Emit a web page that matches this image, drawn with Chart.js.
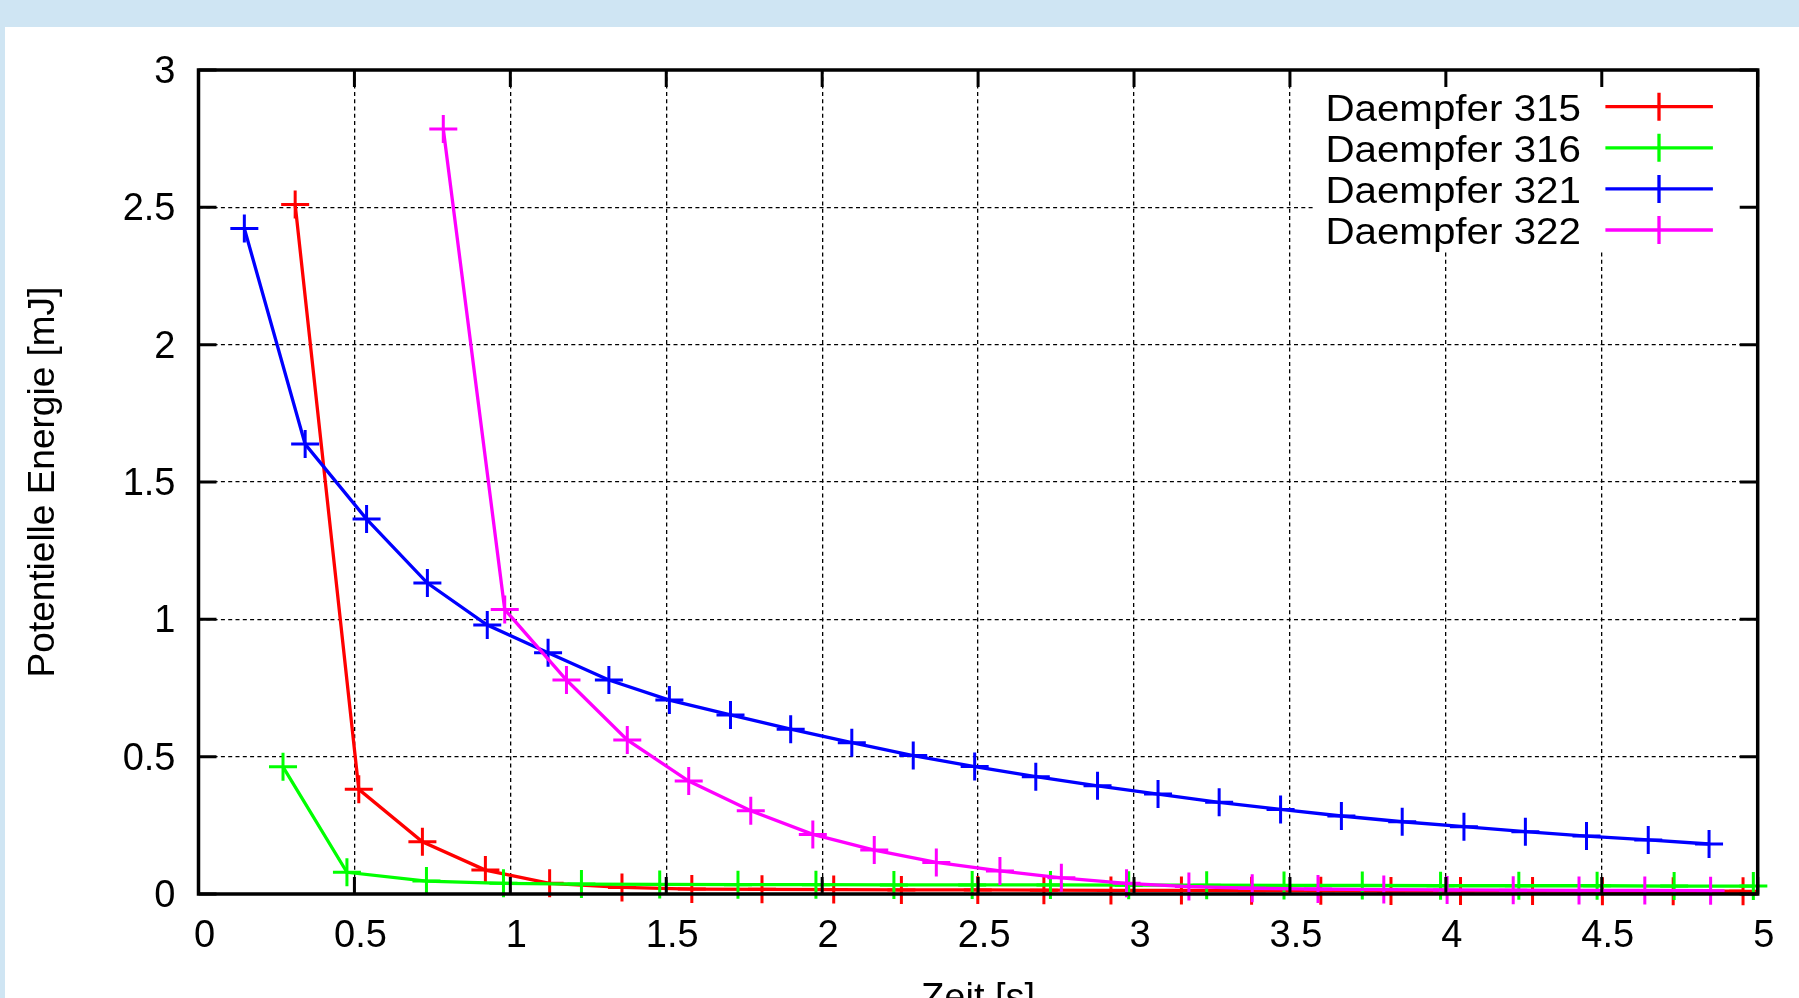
<!DOCTYPE html>
<html>
<head>
<meta charset="utf-8">
<title>Daempfer - Potentielle Energie</title>
<script src="https://cdn.jsdelivr.net/npm/chart.js@4.4.0/dist/chart.umd.min.js"></script>
<style>
    html, body {
        margin: 0;
        padding: 0;
        width: 1799px;
        height: 998px;
        overflow: hidden;
        background: #cfe5f3;
    }
    #panel {
        position: absolute;
        left: 5px;
        top: 27px;
        width: 1794px;
        height: 995px;
        background: #ffffff;
    }
    #energyChart {
        display: block;
    }
</style>
</head>
<body>
<div id="panel">
    <canvas id="energyChart" width="1794" height="995"></canvas>
</div>
<script>
// --- Daten ---
const seriesNames = ['Daempfer 315', 'Daempfer 316', 'Daempfer 321', 'Daempfer 322'];
const seriesColors = ['#ff0000', '#00ff00', '#0000ff', '#ff00ff'];

const t315 = [0.31, 0.514, 0.718, 0.92, 1.126, 1.358, 1.582, 1.807, 2.037, 2.254, 2.499, 2.711, 2.926, 3.152, 3.377, 3.599, 3.824, 4.047, 4.278, 4.502, 4.729, 4.953];
const e315 = [2.51, 0.381, 0.19, 0.087, 0.039, 0.024, 0.018, 0.017, 0.016, 0.015, 0.015, 0.014, 0.013, 0.013, 0.012, 0.012, 0.011, 0.011, 0.011, 0.01, 0.01, 0.01];

const t316 = [0.271, 0.476, 0.731, 0.978, 1.228, 1.479, 1.73, 1.98, 2.23, 2.481, 2.732, 2.983, 3.233, 3.481, 3.732, 3.983, 4.234, 4.485, 4.732, 4.986];
const e316 = [0.463, 0.079, 0.047, 0.039, 0.036, 0.035, 0.034, 0.034, 0.033, 0.033, 0.033, 0.032, 0.032, 0.031, 0.031, 0.03, 0.03, 0.03, 0.029, 0.029];

const t321 = [0.147, 0.342, 0.539, 0.734, 0.926, 1.121, 1.316, 1.51, 1.706, 1.899, 2.095, 2.292, 2.489, 2.685, 2.883, 3.077, 3.273, 3.47, 3.665, 3.86, 4.058, 4.255, 4.451, 4.649, 4.844];
const e321 = [2.423, 1.638, 1.365, 1.132, 0.979, 0.878, 0.779, 0.706, 0.652, 0.6, 0.551, 0.504, 0.464, 0.427, 0.394, 0.364, 0.334, 0.308, 0.284, 0.263, 0.245, 0.227, 0.211, 0.197, 0.182];

const t322 = [0.785, 0.982, 1.18, 1.375, 1.572, 1.771, 1.97, 2.167, 2.366, 2.57, 2.767, 2.976, 3.176, 3.379, 3.59, 3.801, 4.004, 4.216, 4.427, 4.638, 4.849];
const e322 = [2.785, 1.036, 0.779, 0.561, 0.411, 0.303, 0.217, 0.16, 0.115, 0.084, 0.059, 0.039, 0.027, 0.021, 0.018, 0.016, 0.015, 0.014, 0.013, 0.013, 0.012];

const allTimes = [t315, t316, t321, t322];
const allEnergies = [e315, e316, e321, e322];

// axis ticks
const xTicks = [0, 0.5, 1, 1.5, 2, 2.5, 3, 3.5, 4, 4.5, 5];
const yTicks = [0, 0.5, 1, 1.5, 2, 2.5, 3];

const FONT = "'Liberation Sans', Arial, Helvetica, sans-serif";

function toPoints(ts, es) {
    return ts.map(function(t, i) { return { x: t, y: es[i] }; });
}

const datasets = seriesNames.map(function(name, i) {
    return {
        label: name,
        data: toPoints(allTimes[i], allEnergies[i]),
        borderColor: seriesColors[i],
        backgroundColor: seriesColors[i],
        borderWidth: 3.3,
        tension: 0,
        pointStyle: 'cross',
        pointRadius: 14,
        pointBorderWidth: 3,
        pointBorderColor: seriesColors[i],
        pointHoverRadius: 14,
        clip: false,
        order: seriesNames.length - 1 - i // 322 on top like gnuplot
    };
});

// Legend inside the plot (gnuplot style: text right, sample left), white box behind
const keyPlugin = {
    id: 'gnuplotKey',
    beforeDatasetsDraw: function(chart) {
        const ctx = chart.ctx;
        const area = chart.chartArea;
        ctx.save();
        ctx.fillStyle = '#ffffff';
        ctx.fillRect(area.right - 443, area.top, 443, 182);

        seriesNames.forEach(function(name, i) {
            const rowY = area.top + 36.7 + i * 41.1;
            ctx.font = '36px ' + FONT;
            ctx.fillStyle = '#000000';
            ctx.textAlign = 'right';
            ctx.textBaseline = 'alphabetic';
            // text looks a little wider in the original
            ctx.save();
            ctx.translate(area.right - 176.8, rowY + 14);
            ctx.scale(1.12, 1);
            ctx.fillText(name, 0, 0);
            ctx.restore();

            ctx.strokeStyle = seriesColors[i];
            ctx.lineWidth = 3.3;
            ctx.beginPath();
            ctx.moveTo(area.right - 152.3, rowY);
            ctx.lineTo(area.right - 44.8, rowY);
            const cx = area.right - 98.7;
            ctx.moveTo(cx, rowY - 14);
            ctx.lineTo(cx, rowY + 14);
            ctx.stroke();
        });
        ctx.restore();
    },
    afterDraw: function(chart) {
        // frame with inward ticks on all four sides
        const ctx = chart.ctx;
        const area = chart.chartArea;
        const xs = chart.scales.x;
        const ys = chart.scales.y;
        ctx.save();
        ctx.strokeStyle = '#000000';
        ctx.lineWidth = 3;
        ctx.beginPath();
        xTicks.forEach(function(v) {
            const px = xs.getPixelForValue(v);
            ctx.moveTo(px, area.bottom);
            ctx.lineTo(px, area.bottom - 17);
            ctx.moveTo(px, area.top);
            ctx.lineTo(px, area.top + 17);
        });
        yTicks.forEach(function(v) {
            const py = ys.getPixelForValue(v);
            ctx.moveTo(area.left, py);
            ctx.lineTo(area.left + 18, py);
            ctx.moveTo(area.right, py);
            ctx.lineTo(area.right - 18, py);
        });
        ctx.stroke();
        ctx.lineWidth = 3.5;
        ctx.strokeRect(area.left, area.top, area.right - area.left, area.bottom - area.top);
        ctx.restore();
    }
};

Chart.defaults.font.family = FONT;
Chart.defaults.color = '#000000';
Chart.defaults.animation = false;

function plainLabel(value) {
    return String(value);
}

const energyCtx = document.getElementById('energyChart').getContext('2d');
const energyChart = new Chart(energyCtx, {
    type: 'line',
    data: { datasets: datasets },
    plugins: [keyPlugin],
    options: {
        responsive: false,
        maintainAspectRatio: false,
        animation: false,
        layout: {
            padding: { left: 0, right: 41.3, top: 43, bottom: 0 }
        },
        plugins: {
            legend: { display: false },
            tooltip: { enabled: false }
        },
        scales: {
            x: {
                type: 'linear',
                min: 0,
                max: 5,
                afterBuildTicks: function(scale) {
                    scale.ticks = xTicks.map(function(v) { return { value: v }; });
                },
                afterFit: function(scale) {
                    scale.height = 128;
                    scale.paddingLeft = 0;
                    scale.paddingRight = 0;
                },
                ticks: {
                    font: { size: 38 },
                    padding: 20,
                    labelOffset: 6,
                    maxRotation: 0,
                    autoSkip: false,
                    callback: plainLabel
                },
                grid: { color: '#000000', lineWidth: 1.3, drawTicks: false },
                border: { display: false, dash: [4, 3.3] },
                title: {
                    display: true,
                    text: 'Zeit [s]',
                    font: { size: 38 },
                    padding: 0
                }
            },
            y: {
                type: 'linear',
                min: 0,
                max: 3,
                afterBuildTicks: function(scale) {
                    scale.ticks = yTicks.map(function(v) { return { value: v }; });
                },
                afterFit: function(scale) {
                    scale.width = 193.5;
                    scale.paddingTop = 0;
                    scale.paddingBottom = 0;
                },
                ticks: {
                    font: { size: 38 },
                    padding: 23,
                    labelOffset: 2.5,
                    callback: plainLabel
                },
                grid: { color: '#000000', lineWidth: 1.3, drawTicks: false },
                border: { display: false, dash: [4, 3.3] },
                title: {
                    display: true,
                    text: 'Potentielle Energie [mJ]',
                    font: { size: 37 },
                    padding: { top: 17, bottom: 0 }
                }
            }
        }
    }
});
</script>
</body>
</html>
